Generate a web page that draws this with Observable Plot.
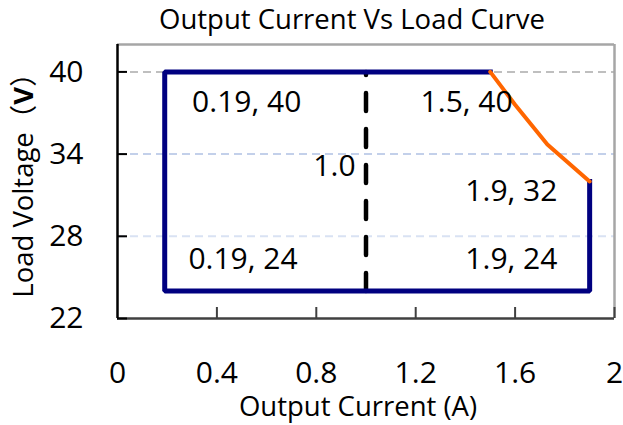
<!DOCTYPE html>
<html><head><meta charset="utf-8">
<script src="https://cdn.jsdelivr.net/npm/d3@7"></script>
<script src="https://cdn.jsdelivr.net/npm/@observablehq/plot@0.6"></script>
<style>body{margin:0;background:#fff} svg{display:block}</style>
</head><body><div id="chart"></div>
<script>
const titleText = "Output Current Vs Load Curve";
const xTitle = "Output Current (A)";
const yTitleParts = ["Load Voltage（", "V", "）"];
const xTicks = [0, 0.4, 0.8, 1.2, 1.6, 2];
const xTickLabels = ["0", "0.4", "0.8", "1.2", "1.6", "2"];
const yTicks = [22, 28, 34, 40];
const boundaryX = [1.5, 0.19, 0.19, 1.9, 1.9];
const boundaryY = [40, 40, 24, 24, 32];
const powerX = [1.5, 1.6, 1.73, 1.9];
const powerY = [40, 37.6, 34.7, 32];
const splitX = [1.0, 1.0];
const splitY = [24, 40];
const labelText = ["0.19, 40", "1.5, 40", "1.0", "1.9, 32", "0.19, 24", "1.9, 24"];
const labelX = [0.52, 1.405, 0.873, 1.585, 0.505, 1.585];
const labelY = [37.75, 37.75, 33.1, 31.3, 26.3, 26.3];

const yTitle = yTitleParts.join("");
const FONT = "'Open Sans', 'Noto Sans CJK SC', sans-serif";

const plot = Plot.plot({
  width: 623, height: 425,
  marginLeft: 117, marginRight: 9, marginTop: 44, marginBottom: 107,
  style: {fontFamily: FONT, color: "#000", background: "#fff"},
  x: {domain: [0, 2]},
  y: {domain: [22, 42]},
  marks: [
    Plot.ruleY([40], {stroke: "#bfbfbf", strokeWidth: 2, strokeDasharray: "8,5"}),
    Plot.ruleY([34], {stroke: "#c3d0ea", strokeWidth: 2, strokeDasharray: "8,5"}),
    Plot.ruleY([28], {stroke: "#d9e2f3", strokeWidth: 2, strokeDasharray: "8,5"}),
    Plot.ruleY([42], {stroke: "#a6a6a6", strokeWidth: 2.5}),
    Plot.ruleX([2], {stroke: "#a6a6a6", strokeWidth: 2.5}),
    Plot.ruleY([22], {stroke: "#404040", strokeWidth: 2.5}),
    Plot.ruleX([0], {stroke: "#000", strokeWidth: 2.5}),
    Plot.ruleX(xTicks.slice(1), {y1: 22, y2: 22, insetTop: -11, stroke: "#404040", strokeWidth: 2}),
    Plot.ruleY(yTicks, {x1: 0, x2: 0, insetRight: -10, stroke: "#000", strokeWidth: 2}),
    Plot.axisX(xTicks, {tickSize: 0, tickPadding: 43, fontSize: 30, label: null,
      tickFormat: d => xTickLabels[xTicks.indexOf(d)]}),
    Plot.axisY(yTicks, {tickSize: 0, tickPadding: 34, fontSize: 30, label: null}),
    Plot.line({length: splitX.length}, {x: splitX, y: splitY, stroke: "#000", strokeWidth: 4.5, strokeDasharray: "18,18"}),
    Plot.line({length: boundaryX.length}, {x: boundaryX, y: boundaryY, stroke: "#000080", strokeWidth: 5, strokeLinejoin: "miter", strokeLinecap: "square"}),
    Plot.line({length: powerX.length}, {x: powerX, y: powerY, stroke: "#ff6600", strokeWidth: 4, strokeLinejoin: "round"}),
    Plot.text({length: labelText.length}, {x: labelX, y: labelY, text: labelText, fontSize: 30, fill: "#000"}),
    Plot.text([titleText], {frameAnchor: "top", lineAnchor: "middle", dx: -14, dy: -24, fontSize: 27.5, fill: "#000"}),
    Plot.text([xTitle], {frameAnchor: "bottom", lineAnchor: "middle", dx: -8, dy: 89, fontSize: 27.5, fill: "#000"}),
    Plot.text([yTitle], {frameAnchor: "left", textAnchor: "middle", lineAnchor: "middle", rotate: -90, dx: -93, dy: -3, fontSize: 27.5, fill: "#000"})
  ]
});

d3.select(plot).selectAll("text").filter(function() { return this.textContent === yTitle; }).each(function() {
  const t = d3.select(this);
  t.text(null);
  t.append("tspan").text(yTitleParts[0]);
  t.append("tspan").attr("font-weight", "bold").text(yTitleParts[1]);
  t.append("tspan").text(yTitleParts[2]);
});

document.getElementById("chart").appendChild(plot);
</script>
</body></html>
